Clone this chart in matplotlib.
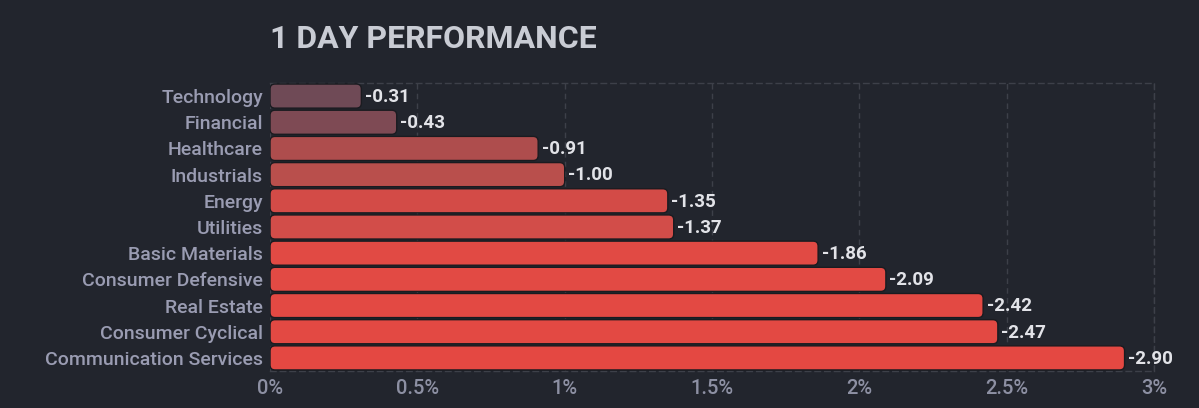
import matplotlib
matplotlib.use("Agg")
import matplotlib.pyplot as plt
from matplotlib.patches import FancyBboxPatch
from matplotlib.ticker import FuncFormatter

sectors = ["Technology", "Financial", "Healthcare", "Industrials", "Energy", "Utilities",
           "Basic Materials", "Consumer Defensive", "Real Estate", "Consumer Cyclical",
           "Communication Services"]
values = [-0.31, -0.43, -0.91, -1.00, -1.35, -1.37, -1.86, -2.09, -2.42, -2.47, -2.90]
colors = ["#6f4a56", "#7e4a54", "#ae4d4d", "#b94f4c", "#d34b47", "#d24d49",
          "#e14a44", "#e24a44", "#e34943", "#e34943", "#e44842"]
xticks = [0, 0.5, 1, 1.5, 2, 2.5, 3]

BG = "#22252d"
plt.rcParams['font.family'] = ['Roboto', 'DejaVu Sans']

fig = plt.figure(figsize=(11.99, 4.08), dpi=100, facecolor=BG)
ax = fig.add_axes([0.2252, 0.0907, 0.7373, 0.7059])
ax.set_facecolor(BG)

ax.set_xlim(0, 3)
ax.set_ylim(len(sectors) - 0.5, -0.5)

mags = [abs(v) for v in values]
bar_h = 0.92
bars = ax.barh(range(len(sectors)), mags, height=bar_h, color=colors)
ax_w_px = 0.7373 * 1199
ax_h_px = 0.7059 * 408
px_per_x = ax_w_px / 3.0
px_per_y = ax_h_px / len(sectors)
aspect = px_per_x / px_per_y
for b, c in zip(bars, colors):
    x0, y0 = b.get_x(), b.get_y()
    w, h = b.get_width(), b.get_height()
    b.set_visible(False)
    r = 5 / px_per_x
    p = FancyBboxPatch((x0 + r, y0 + r * aspect), w - 2 * r, h - 2 * r * aspect,
                       boxstyle=f"round,pad={r}", mutation_aspect=aspect,
                       facecolor=c, edgecolor="#1a1b20", linewidth=1.0, zorder=3)
    ax.add_patch(p)

for i, (v, m) in enumerate(zip(values, mags)):
    ax.text(m + 0.012, i + 0.03, f"{v:.2f}", va="center", ha="left", color="#e2e3e8",
            fontsize=13.5, fontweight="bold", zorder=4)

ax.set_yticks(range(len(sectors)))
ax.set_yticklabels(sectors, color="#9a9cb2", fontsize=14, fontweight="medium")
ax.set_xticks(xticks)
ax.xaxis.set_major_formatter(FuncFormatter(lambda x, p: f"{x:g}%"))
for lab in ax.get_xticklabels():
    lab.set_color("#8d90a3")
    lab.set_fontsize(14.5)
    lab.set_fontweight("medium")
ax.tick_params(axis="both", length=0, pad=5)
ax.tick_params(axis="x", pad=6)

ax.grid(axis="x", color="#3d4049", linestyle=(0, (4, 3)), linewidth=1, zorder=0)
for s in ax.spines.values():
    s.set_color("#3d4049")
    s.set_linestyle((0, (4, 3)))
    s.set_linewidth(1)
ax.spines["left"].set_visible(False)

fig.text(0.2252, 0.905, "1 DAY PERFORMANCE", color="#c9ccd4", fontsize=23,
         fontweight="bold", ha="left", va="center")

fig.savefig("out.png", dpi=100, facecolor=BG)
